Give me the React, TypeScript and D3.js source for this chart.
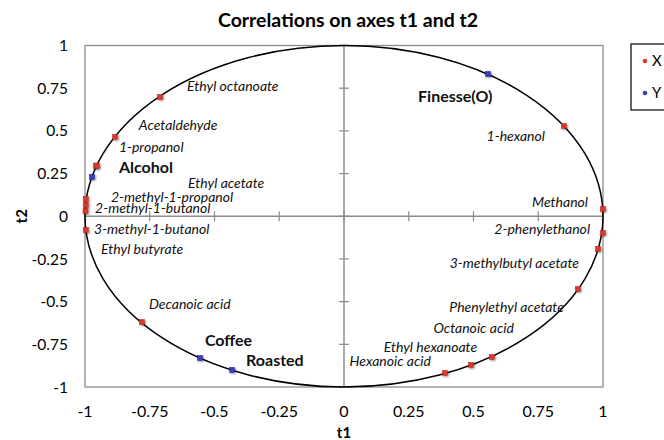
import * as d3 from 'd3'

// active variables (X) and supplementary (Y) on t1 / t2
const xNames = ['Ethyl octanoate', 'Acetaldehyde', '1-propanol', 'Ethyl acetate', '2-methyl-1-propanol',
  '2-methyl-1-butanol', 'Ethyl butyrate', '3-methyl-1-butanol', 'Decanoic acid', '1-hexanol', 'Methanol',
  '2-phenylethanol', '3-methylbutyl acetate', 'Phenylethyl acetate', 'Octanoic acid', 'Ethyl hexanoate', 'Hexanoic acid']
const xT1 = [-0.710, -0.884, -0.957, -0.955, -0.997, -0.997, -0.998, -0.997, -0.780, 0.849, 0.999, 0.999, 0.981, 0.903, 0.571, 0.490, 0.390]
const xT2 = [0.698, 0.464, 0.294, 0.297, 0.101, 0.066, 0.031, -0.081, -0.620, 0.528, 0.042, -0.098, -0.191, -0.426, -0.825, -0.871, -0.918]

const yNames = ['Alcohol', 'Finesse(O)', 'Coffee', 'Roasted']
const yT1 = [-0.973, 0.556, -0.556, -0.432]
const yT2 = [0.230, 0.833, -0.830, -0.900]

const ticks = [-1, -0.75, -0.5, -0.25, 0, 0.25, 0.5, 0.75, 1]
const legendKeys = ['X', 'Y']

// where the chart put each label (in t1/t2 units), anchor side
const xLabelAt: [number, number, 'start' | 'end'][] = [
  [-0.606, 0.733, 'start'], [-0.792, 0.505, 'start'], [-0.869, 0.376, 'start'], [-0.602, 0.165, 'start'],
  [-0.900, 0.083, 'start'], [-0.961, 0.019, 'start'], [-0.938, -0.221, 'start'], [-0.965, -0.104, 'start'],
  [-0.753, -0.543, 'start'], [0.776, 0.441, 'end'], [0.942, 0.054, 'end'], [0.950, -0.104, 'end'],
  [0.907, -0.303, 'end'], [0.849, -0.561, 'end'], [0.656, -0.684, 'end'], [0.514, -0.795, 'end'], [0.336, -0.877, 'end'],
]
const yLabelAt: [number, number][] = [[-0.869, 0.253], [0.286, 0.669], [-0.537, -0.760], [-0.378, -0.877]]

const W = 664, H = 440
const RED = '#d9382a', BLUE = '#3b3bc4', GREY = '#8c8c8c'
const FONT = 'Lato, "Open Sans", sans-serif'

export default function App() {
  const x = d3.scaleLinear().domain([-1, 1]).range([85, 603])
  const y = d3.scaleLinear().domain([-1, 1]).range([387, 45.5])
  const fmt = (v: number) => String(v)

  return (
    <svg width={W} height={H} style={{ position: 'absolute', left: 0, top: 0, background: '#fff' }} fontFamily={FONT}>
      <defs>
        <filter id="glow" x="-100%" y="-100%" width="300%" height="300%">
          <feGaussianBlur in="SourceAlpha" stdDeviation="1.3" result="b" />
          <feOffset dx="0.8" dy="0.8" in="b" result="o" />
          <feComponentTransfer in="o" result="s"><feFuncA type="linear" slope="0.45" /></feComponentTransfer>
          <feMerge><feMergeNode in="s" /><feMergeNode in="SourceGraphic" /></feMerge>
        </filter>
      </defs>

      <text x={348} y={27} textAnchor="middle" fontWeight="bold" fontSize={19.5}>Correlations on axes t1 and t2</text>

      {/* plot frame */}
      <rect x={x(-1)} y={y(1)} width={x(1) - x(-1)} height={y(-1) - y(1)} fill="none" stroke={GREY} strokeWidth={1.3} />
      <line x1={x(0)} x2={x(0)} y1={y(1)} y2={y(-1)} stroke={GREY} strokeWidth={1.5} />
      <line x1={x(-1)} x2={x(1)} y1={y(0)} y2={y(0)} stroke={GREY} strokeWidth={1.5} />
      {ticks.map(t => (
        <g key={'t' + t}>
          <line x1={x(t)} x2={x(t)} y1={y(0) - 5} y2={y(0) + 5} stroke={GREY} strokeWidth={1.2} />
          <line x1={x(0) - 5} x2={x(0) + 5} y1={y(t)} y2={y(t)} stroke={GREY} strokeWidth={1.2} />
          <text x={x(t)} y={417} textAnchor="middle" fontSize={16}>{fmt(t)}</text>
          <text x={68} y={y(t)} dy="0.36em" textAnchor="end" fontSize={15.5}>{fmt(t)}</text>
        </g>
      ))}
      <text x={x(0)} y={438} textAnchor="middle" fontWeight="bold" fontSize={15}>t1</text>
      <text transform={`translate(27,${y(0)}) rotate(-90)`} textAnchor="middle" fontWeight="bold" fontSize={15}>t2</text>

      {/* correlation circle */}
      <ellipse cx={x(0)} cy={y(0)} rx={x(1) - x(0)} ry={y(-1) - y(0)} fill="none" stroke="#000" strokeWidth={1.5} />

      {xNames.map((n, i) => (
        <g key={n}>
          <rect x={x(xT1[i]) - 2.5} y={y(xT2[i]) - 2.5} width={5} height={5} fill={RED} stroke="#b02818" strokeWidth={0.5} filter="url(#glow)" />
          <text x={x(xLabelAt[i][0])} y={y(xLabelAt[i][1])} textAnchor={xLabelAt[i][2]} fontStyle="italic" fontSize={14} fill="#111">{n}</text>
        </g>
      ))}
      {yNames.map((n, i) => (
        <g key={n}>
          <rect x={x(yT1[i]) - 2.5} y={y(yT2[i]) - 2.5} width={5} height={5} fill={BLUE} stroke="#23238a" strokeWidth={0.5} filter="url(#glow)" />
          <text x={x(yLabelAt[i][0])} y={y(yLabelAt[i][1])} fontWeight="bold" fontSize={16} fill="#111">{n}</text>
        </g>
      ))}

      {/* legend, cut off at the right edge */}
      <rect x={631} y={44} width={60} height={66} fill="#fff" stroke="#000" strokeWidth={1.2} />
      {legendKeys.map((k, i) => (
        <g key={k}>
          <circle cx={645} cy={61 + i * 32} r={2.3} fill={i === 0 ? RED : BLUE} />
          <text x={652} y={61 + i * 32} dy="0.36em" fontSize={15}>{k}</text>
        </g>
      ))}
    </svg>
  )
}
